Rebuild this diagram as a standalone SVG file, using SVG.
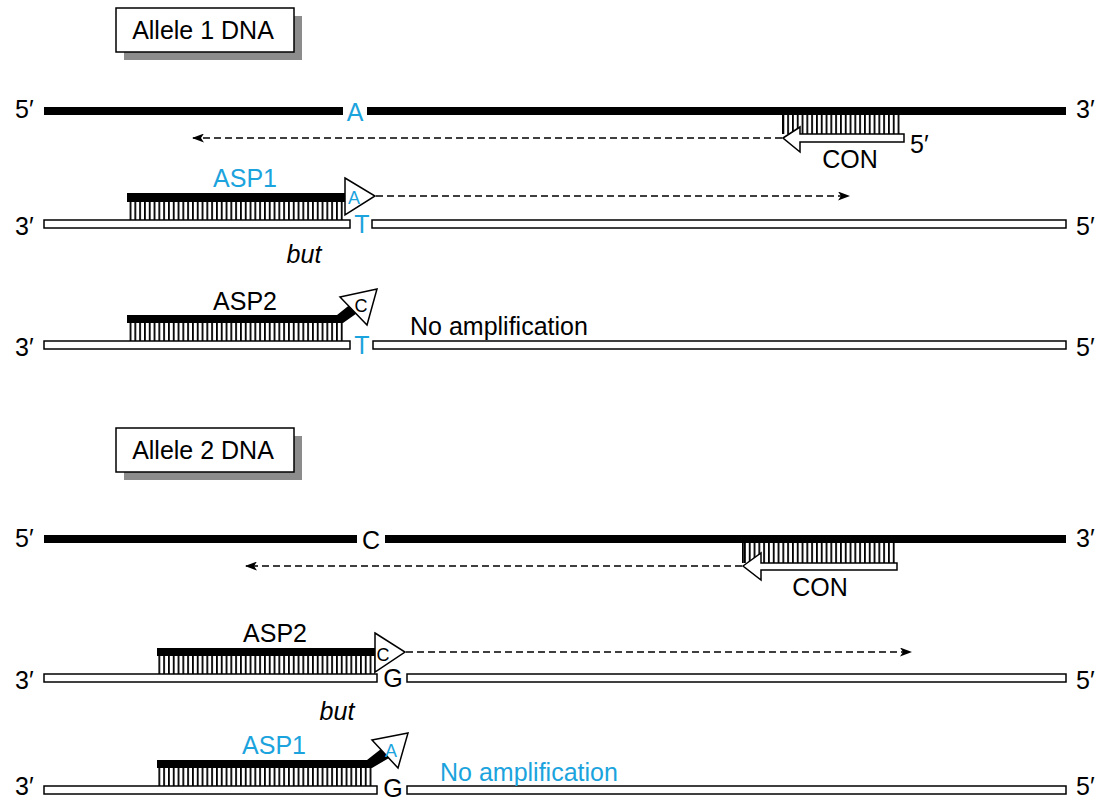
<svg xmlns="http://www.w3.org/2000/svg" width="1106" height="801" viewBox="0 0 1106 801">
<style>
  text{font-family:"Liberation Sans",Arial,sans-serif;fill:#000}
  .lbl{font-size:25px}
  .end{font-size:25px}
  .blue{fill:#1ba3dd}
  .small{font-size:18px}
  .mid{text-anchor:middle}
  .it{font-style:italic}
  .strand{fill:#000}
  .open{fill:#fff;stroke:#000;stroke-width:1.5}
  .tri{fill:#fff;stroke:#000;stroke-width:1.5;stroke-linejoin:miter}
  .dash{fill:none;stroke:#000;stroke-width:1.6;stroke-dasharray:7 4}
  .shadow{fill:#8c8c8c}
  .box{fill:#fff;stroke:#000;stroke-width:1.5}
</style>
<defs>
  <pattern id="hatch" x="0" y="0" width="4.8" height="40" patternUnits="userSpaceOnUse">
    <rect x="0" y="0" width="1.8" height="40" fill="#000"/>
  </pattern>
  <marker id="ah" viewBox="0 0 12 9" refX="11" refY="4.5" markerWidth="12" markerHeight="9" markerUnits="userSpaceOnUse" orient="auto">
    <path d="M0,0 L12,4.5 L0,9 L3,4.5 z" fill="#000"/>
  </marker>
</defs>

<!-- Allele 1 -->
<g id="allele1-label">
  <rect class="shadow" x="124" y="16" width="178" height="44"/>
  <rect class="box" x="116" y="8" width="178" height="44"/>
  <text class="lbl mid" x="203" y="39">Allele 1 DNA</text>
</g>

<g id="a1-top-strand">
  <text class="end" x="15" y="118">5′</text>
  <rect class="strand" x="44" y="107" width="299" height="8"/>
  <text class="lbl blue mid" x="355" y="121">A</text>
  <rect class="strand" x="367" y="107" width="699" height="8"/>
  <text class="end" x="1076" y="118">3′</text>
</g>

<g id="a1-con-primer">
  <rect x="783" y="115" width="117" height="19" fill="url(#hatch)"/>
  <rect x="782" y="115" width="1.8" height="19" fill="#000"/>
  <polygon class="tri" points="783,138 800,127 800,134 904,134 904,142 800,142 800,152"/>
  <text class="end" x="910" y="153">5′</text>
  <text class="lbl mid" x="850" y="168">CON</text>
</g>

<g id="a1-asp1-strand">
  <text class="end" x="15" y="235">3′</text>
  <rect class="open" x="44" y="220" width="306" height="8"/>
  <text class="lbl blue mid" x="362" y="233">T</text>
  <rect class="open" x="372" y="220" width="694" height="8"/>
  <text class="end" x="1076" y="235">5′</text>
</g>

<g id="a1-asp1-primer">
  <text class="lbl blue mid" x="245" y="187">ASP1</text>
  <rect class="strand" x="127" y="193" width="218" height="9"/>
  <rect x="127" y="202" width="218" height="18" fill="url(#hatch)"/>
  <polygon class="tri" points="345,178 375,196 345,215"/>
  <text class="small blue mid" x="354" y="204">A</text>
</g>

<text class="lbl it mid" x="304" y="263">but</text>

<g id="a1-asp2-strand">
  <text class="end" x="15" y="356">3′</text>
  <rect class="open" x="44" y="341" width="306" height="8"/>
  <text class="lbl blue mid" x="362" y="354">T</text>
  <rect class="open" x="373" y="341" width="693" height="8"/>
  <text class="end" x="1076" y="356">5′</text>
</g>

<g id="a1-asp2-primer">
  <text class="lbl mid" x="245" y="310">ASP2</text>
  <rect x="127" y="323" width="216" height="18" fill="url(#hatch)"/>
  <polygon class="strand" points="127,315 337,315 352,303 360,311 343,323 127,323"/>
  <polygon class="tri" points="340,297 377,289 367,325"/>
  <text class="small mid" x="361" y="312">C</text>
  <text class="lbl" x="410" y="335">No amplification</text>
</g>

<!-- Allele 2 -->
<g id="allele2-label">
  <rect class="shadow" x="124" y="436" width="178" height="44"/>
  <rect class="box" x="116" y="428" width="178" height="44"/>
  <text class="lbl mid" x="203" y="459">Allele 2 DNA</text>
</g>

<g id="a2-top-strand">
  <text class="end" x="15" y="547">5′</text>
  <rect class="strand" x="44" y="535" width="313" height="8"/>
  <text class="lbl mid" x="371" y="549">C</text>
  <rect class="strand" x="385" y="535" width="681" height="8"/>
  <text class="end" x="1076" y="547">3′</text>
</g>

<g id="a2-con-primer">
  <rect x="743" y="543" width="152" height="20" fill="url(#hatch)"/>
  <rect x="742" y="543" width="1.8" height="20" fill="#000"/>
  <polygon class="tri" points="743,566 761,553 761,563 897,563 897,570 761,570 761,580"/>
  <text class="lbl mid" x="820" y="596">CON</text>
</g>

<g id="a2-asp2-strand">
  <text class="end" x="15" y="689">3′</text>
  <rect class="open" x="44" y="674" width="333" height="8"/>
  <text class="lbl mid" x="393" y="687">G</text>
  <rect class="open" x="407" y="674" width="659" height="8"/>
  <text class="end" x="1076" y="689">5′</text>
</g>

<g id="a2-asp2-primer">
  <text class="lbl mid" x="275" y="642">ASP2</text>
  <rect class="strand" x="157" y="648" width="218" height="8"/>
  <rect x="157" y="656" width="218" height="18" fill="url(#hatch)"/>
  <polygon class="tri" points="375,633 405,652 375,672"/>
  <text class="small mid" x="383" y="661">C</text>
</g>

<text class="lbl it mid" x="337" y="720">but</text>

<g id="a2-asp1-strand">
  <text class="end" x="15" y="795">3′</text>
  <rect class="open" x="44" y="786" width="333" height="8"/>
  <text class="lbl mid" x="393" y="797">G</text>
  <rect class="open" x="407" y="786" width="659" height="8"/>
  <text class="end" x="1076" y="795">5′</text>
</g>

<g id="a2-asp1-primer">
  <text class="lbl blue mid" x="274" y="754">ASP1</text>
  <rect x="157" y="768" width="215" height="18" fill="url(#hatch)"/>
  <polygon class="strand" points="157,760 367,760 381,749 389,758 372,768 157,768"/>
  <polygon class="tri" points="372,740 408,733 398,768"/>
  <text class="small blue mid" x="391" y="757">A</text>
  <text class="lbl blue" x="440" y="781">No amplification</text>
</g>

<g id="connectors">
  <line class="dash" x1="782" y1="138" x2="193" y2="138" marker-end="url(#ah)"/>
  <line class="dash" x1="376" y1="196" x2="849" y2="196" marker-end="url(#ah)"/>
  <line class="dash" x1="742" y1="566" x2="246" y2="566" marker-end="url(#ah)"/>
  <line class="dash" x1="406" y1="652" x2="911" y2="652" marker-end="url(#ah)"/>
</g>
</svg>
